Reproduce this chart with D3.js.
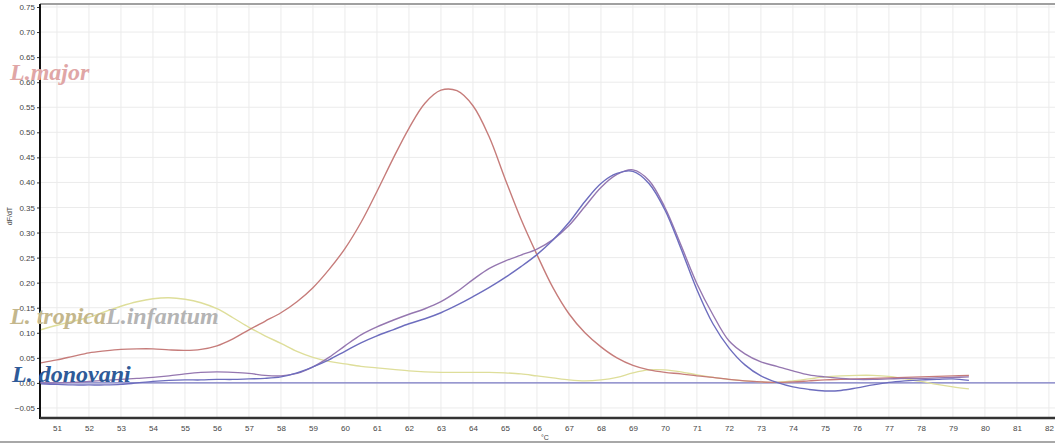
<!DOCTYPE html>
<html>
<head>
<meta charset="utf-8">
<script src="https://cdn.jsdelivr.net/npm/d3@7/dist/d3.min.js"></script>
<style>
  body { margin: 0; background: #fff; }
  svg { display: block; }
  .tick-label { font-family: "Liberation Sans", Arial, sans-serif; font-size: 8px; fill: #444; }
  .species { font-family: "Liberation Serif", "Times New Roman", serif; font-weight: bold; font-style: italic; font-size: 24px; }
</style>
</head>
<body>
<svg id="chart" width="1055" height="444"></svg>
<script>
// temperature grid (°C), one value per series per step
var temps = [50.5, 51, 51.5, 52, 52.5, 53, 53.5, 54, 54.5, 55, 55.5, 56, 56.5, 57, 57.5, 58, 58.5, 59, 59.5, 60,
             60.5, 61, 61.5, 62, 62.5, 63, 63.5, 64, 64.5, 65, 65.5, 66, 66.5, 67, 67.5, 68, 68.5, 69, 69.5, 70,
             70.5, 71, 71.5, 72, 72.5, 73, 73.5, 74, 74.5, 75, 75.5, 76, 76.5, 77, 77.5, 78, 78.5, 79, 79.5];

// L. major (red)
var majorValues = [0.040, 0.046, 0.053, 0.060, 0.064, 0.067, 0.068, 0.068, 0.066, 0.065, 0.067, 0.074, 0.088, 0.106, 0.123, 0.140, 0.162, 0.190, 0.226, 0.268,
                   0.320, 0.382, 0.447, 0.508, 0.558, 0.584, 0.583, 0.553, 0.492, 0.408, 0.327, 0.256, 0.190, 0.138, 0.100, 0.072, 0.050, 0.035, 0.026, 0.021,
                   0.018, 0.014, 0.011, 0.007, 0.004, 0.002, 0.001, 0.002, 0.004, 0.006, 0.007, 0.008, 0.009, 0.010, 0.011, 0.012, 0.013, 0.014, 0.015];

// L. tropica (yellow)
var tropicaValues = [0.106, 0.115, 0.123, 0.131, 0.142, 0.153, 0.162, 0.168, 0.170, 0.167, 0.160, 0.148, 0.130, 0.111, 0.094, 0.079, 0.063, 0.051, 0.043, 0.038,
                     0.033, 0.030, 0.027, 0.024, 0.022, 0.021, 0.021, 0.021, 0.021, 0.020, 0.018, 0.014, 0.010, 0.006, 0.004, 0.006, 0.011, 0.020, 0.026, 0.026,
                     0.022, 0.016, 0.011, 0.007, 0.004, 0.002, 0.001, 0.004, 0.008, 0.012, 0.014, 0.015, 0.015, 0.013, 0.008, 0.003, -0.003, -0.008, -0.012];

// L. infantum (mauve)
var infantumValues = [0.000, 0.000, 0.001, 0.003, 0.005, 0.007, 0.009, 0.011, 0.014, 0.018, 0.021, 0.022, 0.021, 0.019, 0.015, 0.014, 0.019, 0.032, 0.051, 0.074,
                      0.096, 0.112, 0.125, 0.137, 0.148, 0.162, 0.182, 0.206, 0.228, 0.243, 0.255, 0.267, 0.286, 0.314, 0.352, 0.390, 0.416, 0.425, 0.404, 0.350,
                      0.275, 0.198, 0.136, 0.084, 0.058, 0.042, 0.033, 0.024, 0.016, 0.012, 0.009, 0.007, 0.007, 0.008, 0.009, 0.009, 0.010, 0.011, 0.012];

// L. donovani (blue-violet)
var donovaniValues = [-0.002, -0.003, -0.004, -0.004, -0.004, -0.003, 0.000, 0.003, 0.005, 0.006, 0.006, 0.007, 0.007, 0.008, 0.009, 0.012, 0.020, 0.032, 0.046, 0.063,
                      0.080, 0.094, 0.106, 0.118, 0.128, 0.140, 0.155, 0.172, 0.190, 0.210, 0.232, 0.256, 0.285, 0.320, 0.362, 0.398, 0.418, 0.422, 0.398, 0.345,
                      0.268, 0.186, 0.118, 0.070, 0.036, 0.014, 0.001, -0.008, -0.013, -0.016, -0.015, -0.010, -0.004, 0.001, 0.004, 0.006, 0.007, 0.008, 0.005];

var xTicks = d3.range(51, 83);
var yTicks = d3.range(-0.05, 0.7501, 0.05);

var WIDTH = 1055;
var HEIGHT = 444;
var LEFT = 40;
var BOTTOM = 418;

var svg = d3.select("#chart");

var x = d3.scaleLinear().domain([50.47, 82.19]).range([LEFT, WIDTH]);
var y = d3.scaleLinear().domain([-0.07, 0.75]).range([BOTTOM, 7]);

// grid
svg.append("g")
    .selectAll("line")
    .data(xTicks)
    .enter()
    .append("line")
    .attr("x1", function(d) { return x(d); })
    .attr("x2", function(d) { return x(d); })
    .attr("y1", 4)
    .attr("y2", BOTTOM)
    .attr("stroke", "#ebebeb")
    .attr("stroke-width", 1);

svg.append("g")
    .selectAll("line")
    .data(yTicks)
    .enter()
    .append("line")
    .attr("x1", LEFT)
    .attr("x2", WIDTH)
    .attr("y1", function(d) { return y(d); })
    .attr("y2", function(d) { return y(d); })
    .attr("stroke", "#ebebeb")
    .attr("stroke-width", 1);

// frame lines
svg.append("line").attr("x1", LEFT).attr("x2", WIDTH).attr("y1", 4).attr("y2", 4)
    .attr("stroke", "#a0a0a0").attr("stroke-width", 2);
svg.append("line").attr("x1", 0).attr("x2", WIDTH).attr("y1", 442).attr("y2", 442)
    .attr("stroke", "#a8a8a8").attr("stroke-width", 2);

// axes
var yAxis = d3.axisLeft(y)
    .tickValues(yTicks)
    .tickSize(3)
    .tickFormat(d3.format(".2f"));
var xAxis = d3.axisBottom(x)
    .tickValues(xTicks)
    .tickSize(0)
    .tickPadding(7)
    .tickFormat(d3.format("d"));

var gy = svg.append("g").attr("transform", "translate(" + LEFT + ",0)").call(yAxis);
gy.select(".domain").remove();
gy.selectAll("text").attr("class", "tick-label").attr("x", -5).style("font-size", null).style("font-family", null);
gy.selectAll("line").attr("stroke", "#333");

var gx = svg.append("g").attr("transform", "translate(0," + BOTTOM + ")").call(xAxis);
gx.select(".domain").remove();
gx.selectAll("text").attr("class", "tick-label");

svg.append("line").attr("x1", LEFT).attr("x2", LEFT).attr("y1", 4).attr("y2", BOTTOM + 1)
    .attr("stroke", "#111").attr("stroke-width", 2);
svg.append("line").attr("x1", LEFT).attr("x2", WIDTH).attr("y1", BOTTOM).attr("y2", BOTTOM)
    .attr("stroke", "#333").attr("stroke-width", 2.5);

// axis titles
svg.append("text")
    .attr("class", "tick-label")
    .attr("x", x(66.25))
    .attr("y", 440)
    .attr("text-anchor", "middle")
    .style("font-size", "7px")
    .text("°C");
svg.append("text")
    .attr("class", "tick-label")
    .attr("transform", "translate(12,216) rotate(-90)")
    .attr("text-anchor", "middle")
    .style("font-size", "7px")
    .text("dF/dT");

// zero line
svg.append("line")
    .attr("x1", LEFT).attr("x2", WIDTH)
    .attr("y1", y(0)).attr("y2", y(0))
    .attr("stroke", "#7a7ac4").attr("stroke-width", 1.3);

// melt curves
var series = [
    { values: tropicaValues, color: "#dede9a" },
    { values: majorValues, color: "#c67c7a" },
    { values: infantumValues, color: "#9577b0" },
    { values: donovaniValues, color: "#6d6dbe" }
];

var line = d3.line()
    .x(function(d) { return x(d[0]); })
    .y(function(d) { return y(d[1]); })
    .curve(d3.curveCatmullRom.alpha(0.5));

svg.append("g")
    .selectAll("path")
    .data(series)
    .enter()
    .append("path")
    .attr("d", function(s) { return line(d3.zip(temps, s.values)); })
    .attr("fill", "none")
    .attr("stroke", function(s) { return s.color; })
    .attr("stroke-width", 1.4);

// species labels
svg.append("text").attr("class", "species").attr("x", 10).attr("y", 80)
    .attr("fill", "#e0a6a6").text("L.major");
var t = svg.append("text").attr("class", "species").attr("x", 10).attr("y", 324);
t.append("tspan").attr("fill", "#c4b78c").text("L. tropica");
t.append("tspan").attr("fill", "#b4b4b4").text("L.infantum");
svg.append("text").attr("class", "species").attr("x", 12).attr("y", 382)
    .attr("fill", "#2e5a98").text("L. donovani");
</script>
</body>
</html>
